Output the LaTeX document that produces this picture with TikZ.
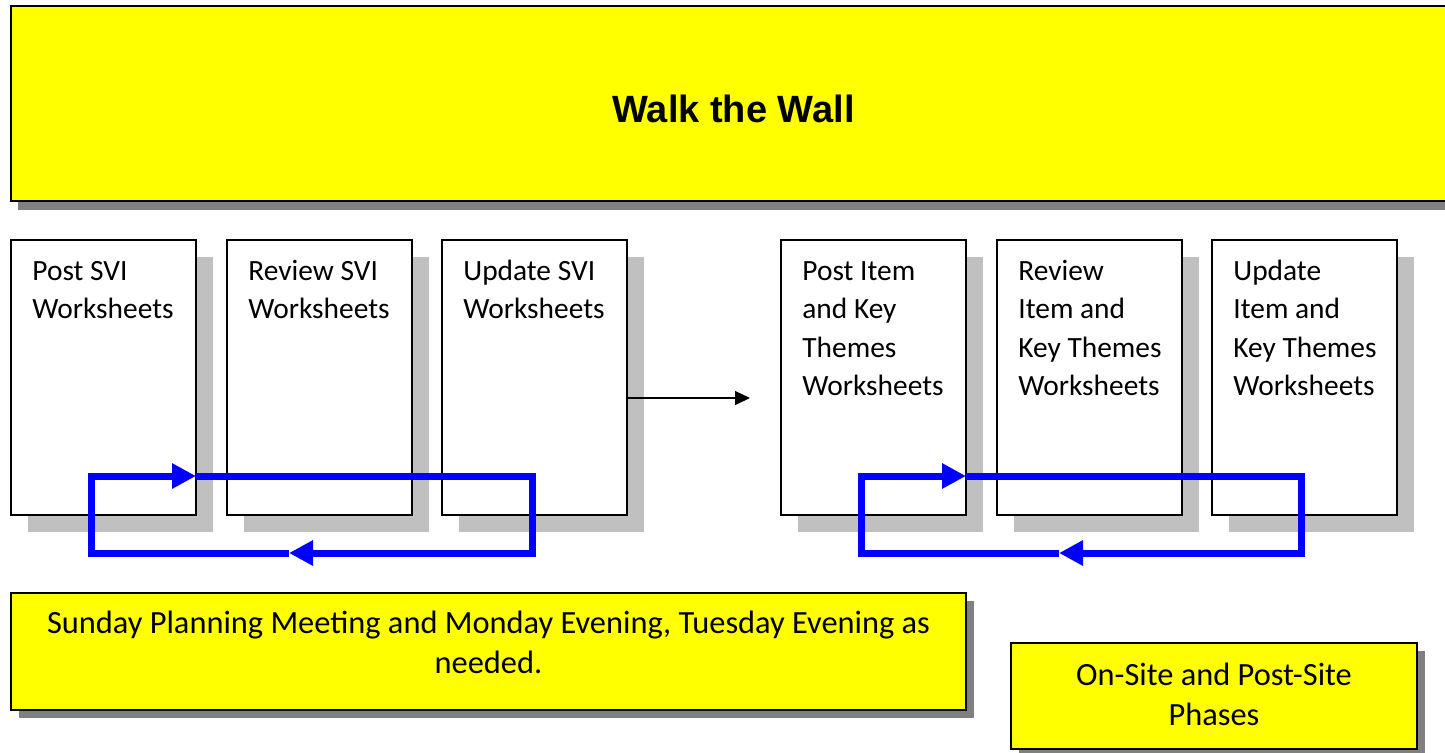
\documentclass[tikz,border=0pt]{standalone}
\usepackage{fontspec}
\setmainfont{Carlito}
\newfontfamily\arialfont{Liberation Sans}
\usetikzlibrary{arrows.meta,calc}
\definecolor{ylw}{RGB}{255,255,0}
\definecolor{shdark}{RGB}{128,128,128}
\definecolor{shlight}{RGB}{192,192,192}
\definecolor{loopblue}{RGB}{0,0,255}
\newcommand{\linesL}[1]{\begin{tabular}[t]{@{}l@{}}#1\end{tabular}}
\newcommand{\linesC}[1]{\begin{tabular}[t]{@{}c@{}}#1\end{tabular}}
\begin{document}
\begin{tikzpicture}[x=0.5pt,y=-0.5pt,
  card/.style={draw=black,line width=0.75pt,fill=white,anchor=north west,
    minimum width=92.5pt,minimum height=137.5pt,inner sep=0pt,outer sep=0pt},
  cardshadow/.style={fill=shlight},
  ybox/.style={draw=black,line width=1pt,fill=ylw,anchor=north west,inner sep=0pt,outer sep=0pt},
  yshadow/.style={fill=shdark},
  cardtext/.style={inner sep=0pt,anchor=base west,
    font=\fontsize{14.7}{19.25}\selectfont},
  ytext/.style={inner sep=0pt,anchor=base,
    font=\fontsize{16.2}{20}\selectfont},
  titletext/.style={inner sep=0pt,anchor=base,
    font=\arialfont\bfseries\fontsize{19}{23}\selectfont},
  blueloop/.style={draw=loopblue,line width=3.5pt,line join=miter,
    -{Triangle[length=12pt,width=12pt]}},
  flow/.style={draw=black,line width=0.6pt,-{Triangle[length=7.5pt,width=7pt]}}
]
\useasboundingbox (0,0) rectangle (1445,752);
\clip (0,0) rectangle (1445,752);

% title
\fill[yshadow] (18,15) rectangle (1460,210);
\node[ybox,minimum width=722pt,minimum height=97.5pt] (titlebox) at (11,6) {};
\node[titletext] (title) at (733.5,122) {Walk the Wall};

% card shadows
\foreach \x in {11,227,442,781,997,1212}
  \fill[cardshadow] (\x+17,257) rectangle (\x+202,532);

% cards
\node[card] (b1) at (11,240) {};
\node[card] (b2) at (227,240) {};
\node[card] (b3) at (442,240) {};
\node[card] (b4) at (781,240) {};
\node[card] (b5) at (997,240) {};
\node[card] (b6) at (1212,240) {};

\node[cardtext] (t1) at (32,280) {\linesL{Post SVI\\Worksheets}};
\node[cardtext] (t2) at (248,280) {\linesL{Review SVI\\Worksheets}};
\node[cardtext] (t3) at (463,280) {\linesL{Update SVI\\Worksheets}};
\node[cardtext] (t4) at (802,280) {\linesL{Post Item\\and Key\\Themes\\Worksheets}};
\node[cardtext] (t5) at (1018,280) {\linesL{Review\\Item and\\Key Themes\\Worksheets}};
\node[cardtext] (t6) at (1233,280) {\linesL{Update\\Item and\\Key Themes\\Worksheets}};

% flow arrow
\coordinate (fa) at (750,398);
\draw[flow] (b3.east |- fa) -- (fa);

% left loop
\coordinate (L1) at (289,553);
\coordinate (L2) at (91,553);
\coordinate (L3) at (91,476);
\coordinate (L4) at (532,476);
\coordinate (L5) at (532,553);
\draw[blueloop] (L1) -- (L2) -- (L3) -- (b1.east |- L3);
\draw[blueloop] (b1.east |- L3) -- (L4) -- (L5) -- (L1);

% right loop
\coordinate (R1) at (1059,553);
\coordinate (R2) at (861,553);
\coordinate (R3) at (861,476);
\coordinate (R4) at (1301,476);
\coordinate (R5) at (1301,553);
\draw[blueloop] (R1) -- (R2) -- (R3) -- (b4.east |- R3);
\draw[blueloop] (b4.east |- R3) -- (R4) -- (R5) -- (R1);

% bottom boxes
\fill[yshadow] (19,601) rectangle (974,718);
\node[ybox,minimum width=477.5pt,minimum height=58.5pt] (sunday) at (11,593) {};
\node[ytext] (sundaytext) at (488.5,633) {\linesC{Sunday Planning Meeting and Monday Evening, Tuesday Evening as\\needed.}};

\fill[yshadow] (1019,651) rectangle (1425,757);
\node[ybox,minimum width=203pt,minimum height=53pt] (onsite) at (1011,643) {};
\node[ytext] (onsitetext) at (1214,685) {\linesC{On-Site and Post-Site\\Phases}};
\end{tikzpicture}
\end{document}
